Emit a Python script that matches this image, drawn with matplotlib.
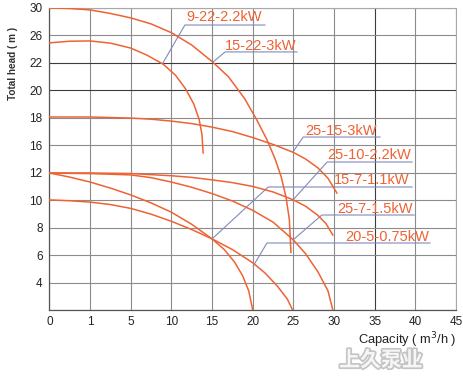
import matplotlib
matplotlib.use("Agg")
import matplotlib.pyplot as plt
import matplotlib.patheffects as pe

# Tick labels as printed on the chart (grid cells are evenly spaced)
X_TICK_LABELS = ["0", "1", "5", "10", "15", "20", "25", "30", "35", "40", "45"]
Y_TICK_LABELS = ["", "4", "6", "8", "10", "12", "16", "18", "20", "22", "26", "30"]

# Pump curves in grid units (1 unit = 1 grid cell)
PUMP_NAMES = ["9-22-2.2kW", "15-22-3kW", "25-15-3kW", "25-10-2.2kW",
              "15-7-1.1kW", "25-7-1.5kW", "20-5-0.75kW"]

q_9_22 = [0.0, 0.5, 1.0, 1.5, 2.0, 2.4, 2.8, 3.1, 3.35, 3.55, 3.68, 3.75, 3.78]
h_9_22 = [9.73, 9.79, 9.80, 9.72, 9.54, 9.28, 8.95, 8.55, 8.05, 7.5, 6.95, 6.4, 5.72]

q_15_22 = [0.0, 0.5, 1.0, 1.5, 2.0, 2.5, 3.0, 3.5, 4.0, 4.4, 4.8, 5.1, 5.35, 5.55,
           5.7, 5.82, 5.9, 5.94]
h_15_22 = [11.0, 10.98, 10.93, 10.8, 10.64, 10.42, 10.1, 9.65, 9.05, 8.5, 7.7, 6.92,
           6.2, 5.5, 4.85, 4.1, 3.3, 2.1]

q_25_15 = [0.0, 1.0, 2.0, 2.5, 3.0, 3.5, 4.0, 4.5, 5.0, 5.5, 6.0, 6.3, 6.6, 6.85, 7.07]
h_25_15 = [7.03, 7.03, 6.99, 6.95, 6.88, 6.79, 6.66, 6.5, 6.28, 6.03, 5.74, 5.5, 5.18,
           4.8, 4.26]

q_25_10 = [0.0, 1.0, 2.0, 3.0, 3.5, 4.0, 4.5, 5.0, 5.5, 6.0, 6.3, 6.6, 6.8, 6.97]
h_25_10 = [4.99, 4.99, 4.97, 4.89, 4.83, 4.74, 4.64, 4.50, 4.30, 4.01, 3.78, 3.45,
           3.15, 2.73]

q_15_7 = [0.0, 0.5, 1.0, 1.5, 2.0, 2.5, 3.0, 3.5, 4.0, 4.3, 4.55, 4.75, 4.9, 5.0]
h_15_7 = [4.99, 4.84, 4.66, 4.44, 4.19, 3.9, 3.56, 3.12, 2.59, 2.2, 1.75, 1.25, 0.7, 0.0]

q_25_7 = [0.0, 1.0, 2.0, 2.5, 3.0, 3.5, 4.0, 4.5, 5.0, 5.5, 6.0, 6.3, 6.6, 6.85, 6.97]
h_25_7 = [4.99, 4.97, 4.92, 4.82, 4.66, 4.47, 4.24, 3.97, 3.63, 3.2, 2.55, 2.05, 1.4,
          0.7, 0.0]

q_20_5 = [0.0, 0.5, 1.0, 1.5, 2.0, 2.5, 3.0, 3.5, 4.0, 4.5, 5.0, 5.3, 5.6, 5.85, 5.98]
h_20_5 = [4.01, 3.98, 3.93, 3.84, 3.70, 3.49, 3.23, 2.93, 2.59, 2.2, 1.72, 1.35, 0.88,
          0.4, 0.0]

CURVES_Q = [q_9_22, q_15_22, q_25_15, q_25_10, q_15_7, q_25_7, q_20_5]
CURVES_H = [h_9_22, h_15_22, h_25_15, h_25_10, h_15_7, h_25_7, h_20_5]

# Label layout: text (x, y), underline (x0, x1, y), leader end point (x, y)
LABEL_TEXT_POS = [(3.36, 10.67), (4.32, 9.62), (6.29, 6.52), (6.83, 5.65),
                  (7.00, 4.74), (7.07, 3.68), (7.27, 2.66)]
LABEL_UNDERLINE = [(3.33, 5.30, 10.38), (4.32, 6.09, 9.40), (6.24, 8.13, 6.30),
                   (6.83, 8.92, 5.39), (5.38, 8.92, 4.48), (6.70, 8.97, 3.46),
                   (5.35, 9.36, 2.44)]
LABEL_TARGET = [(2.79, 9.00), (4.02, 9.03), (5.99, 5.76), (5.99, 4.01),
                (4.00, 2.59), (5.99, 2.55), (5.01, 1.60)]

CURVE_COLOR = "#ee6334"
LEADER_COLOR = "#7f8bbd"


def main():
    fig = plt.figure(figsize=(4.64, 3.85), dpi=100)
    ax = fig.add_axes([49.5 / 464, 1 - 310 / 385, 406.5 / 464, 302 / 385])

    # Grid
    for i in range(11):
        c = "#3c3c3c" if i == 8 else "#8c8c8c"
        ax.axvline(i, color=c, lw=0.8, zorder=1)
    for j in range(12):
        c = "#3c3c3c" if j in (8, 9) else "#8c8c8c"
        ax.axhline(j, color=c, lw=0.8, zorder=1)

    # Pump curves
    for q, h in zip(CURVES_Q, CURVES_H):
        ax.plot(q, h, color=CURVE_COLOR, lw=1.1, zorder=3, solid_joinstyle="round")

    # Labels with underline and leader line
    for name, (tx, ty), (ux0, ux1, uy), (lx, ly) in zip(
            PUMP_NAMES, LABEL_TEXT_POS, LABEL_UNDERLINE, LABEL_TARGET):
        ax.plot([lx, ux0, ux1], [ly, uy, uy], color=LEADER_COLOR, lw=0.8, zorder=2)
        ax.text(tx, ty, name, color=CURVE_COLOR, fontsize=10.5,
                family="Liberation Sans", ha="left", va="center", zorder=4)

    ax.set_xlim(0, 10)
    ax.set_ylim(0, 11)
    ax.set_xticks(range(11))
    ax.set_xticklabels(X_TICK_LABELS)
    ax.set_yticks(range(12))
    ax.set_yticklabels(Y_TICK_LABELS)
    ax.tick_params(length=0, labelsize=8.5, colors="#222222")
    ax.tick_params(axis="x", pad=4.5)
    ax.tick_params(axis="y", pad=5)
    for lab in ax.get_xticklabels() + ax.get_yticklabels():
        lab.set_family("Liberation Sans")

    for side in ("top", "right"):
        ax.spines[side].set_color("#a8a8a8")
        ax.spines[side].set_linewidth(0.8)
    for side in ("left", "bottom"):
        ax.spines[side].set_color("#555555")
        ax.spines[side].set_linewidth(0.9)

    fig.text(13 / 464, 1 - 63 / 385, "Total head ( m )", rotation=90,
             ha="center", va="center", fontsize=7.2, fontweight="bold",
             color="#333333", family="Liberation Sans")
    fig.text(456 / 464, 1 - 340 / 385, "Capacity ( m$^3$/h )",
             ha="right", va="center", fontsize=9.3, color="#222222",
             family="Liberation Sans")

    # Watermark
    fig.text(381 / 464, 1 - 360 / 385, "上久泵业", ha="center", va="center",
             fontsize=15, color="#f6f6f6", fontweight="bold",
             family=["Noto Sans CJK SC", "DejaVu Sans"],
             path_effects=[pe.withStroke(linewidth=2.5, foreground="#c4c4c4")])

    fig.savefig("out.png", dpi=100)


if __name__ == "__main__":
    main()
